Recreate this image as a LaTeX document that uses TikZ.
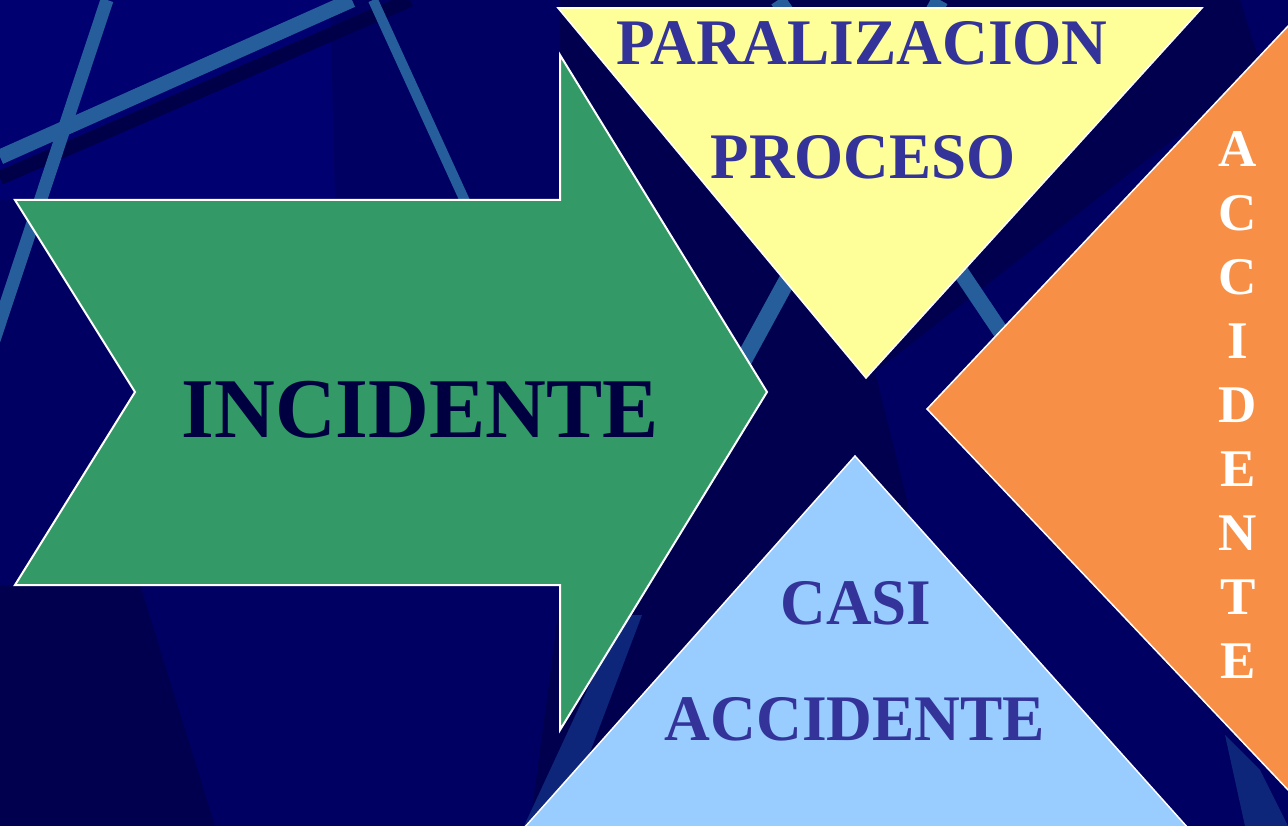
\documentclass[tikz,border=0pt]{standalone}
\usepackage{fontspec}
\setmainfont{Liberation Serif}
\definecolor{bgnavy}{RGB}{0,0,98}
\definecolor{bgdark}{RGB}{0,0,78}
\definecolor{bglight}{RGB}{0,0,112}
\definecolor{stripe}{RGB}{38,94,155}
\definecolor{faint}{RGB}{14,38,122}
\definecolor{shadowband}{RGB}{0,0,72}
\definecolor{green}{RGB}{51,153,102}
\definecolor{yellowfill}{RGB}{255,255,153}
\definecolor{orangefill}{RGB}{247,143,70}
\definecolor{bluefill}{RGB}{153,204,255}
\definecolor{textblue}{RGB}{51,51,153}
\definecolor{textnavy}{RGB}{0,0,64}
\tikzset{
  shapeline/.style={draw=white, line width=2pt, line join=miter},
  stripeline/.style={draw=stripe, line cap=butt},
  lbl/.style={inner sep=0pt, anchor=base, font=\bfseries\fontsize{65}{78}\selectfont, text=textblue},
  vlbl/.style={inner sep=0pt, anchor=base, font=\bfseries\fontsize{53}{64}\selectfont, text=white},
}
\begin{document}
\begin{tikzpicture}[x=1pt,y=-1pt]
\useasboundingbox (0,0) rectangle (1288,826);
\begin{scope}
\clip (0,0) rectangle (1288,826);
% background
\fill[bgnavy] (0,0) rectangle (1288,826);
\fill[bglight] (0,0) -- (330,0) -- (335,200) -- (0,200) -- cycle;
\fill[bgdark] (0,585) -- (140,585) -- (215,826) -- (0,826) -- cycle;
\fill[bgdark] (560,0) -- (1240,0) -- (1262,70) -- (875,372) -- (907,500) -- (930,826) -- (530,826) -- (560,600) -- (560,200) -- cycle;
% stripes
\draw[shadowband, line width=14pt] (0,178) -- (410,0);
\draw[stripeline, line width=15pt] (0,157) -- (352,0);
\draw[stripeline, line width=13pt] (107,0) -- (-6,340);
\draw[stripeline, line width=10pt] (373,0) -- (620,540);
\draw[stripeline, line width=16pt] (778,0) -- (1060,420);
\draw[stripeline, line width=17pt] (940,0) -- (700,440);
\fill[faint] (622,615) -- (642,615) -- (562,826) -- (524,826) -- cycle;
\fill[faint] (1225,735) -- (1260,770) -- (1288,826) -- (1245,826) -- cycle;
\end{scope}
% shapes
\path[shapeline, fill=green] (15,200) -- (560,200) -- (560,55) -- (767,392) -- (560,730) -- (560,585) -- (15,585) -- (135,392) -- cycle;
\path[shapeline, fill=yellowfill, line width=1.5pt] (558,8) -- (1202,8) -- (866,378) -- cycle;
\fill[orangefill] (1290,24) -- (927,409) -- (1290,792) -- cycle;
\draw[white, line width=1.5pt] (1290,24) -- (927,409) -- (1290,792);
\path[shapeline, fill=bluefill, line width=1.5pt] (855,456) -- (1188,828) -- (524,828) -- cycle;
% texts
\node[lbl, font=\bfseries\fontsize{85}{100}\selectfont, text=textnavy] (incidente) at (420,437) {\scalebox{0.99}[1]{INCIDENTE}};
\node[lbl] (paralizacion) at (862,65) {\scalebox{0.974}[1]{PARALIZACION}};
\node[lbl] (proceso) at (863,179) {\scalebox{0.97}[1]{PROCESO}};
\node[lbl] (casi) at (856,624) {\scalebox{0.97}[1]{CASI}};
\node[lbl] (casiacc) at (855,740) {\scalebox{0.975}[1]{ACCIDENTE}};
\foreach \ch [count=\i from 0] in {A,C,C,I,D,E,N,T,E} {
  \node[vlbl] (acc\i) at (1238,{167+63.9*\i}) {\ch};
}
\end{tikzpicture}
\end{document}
